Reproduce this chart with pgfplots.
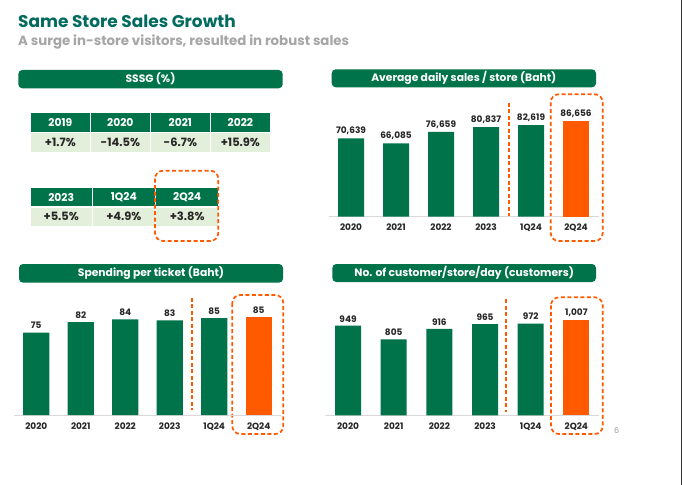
\documentclass[border=0pt]{standalone}
\usepackage{pgfplots}
\pgfplotsset{compat=1.18}
\usepackage{fontspec}
\setmainfont{Poppins}
\definecolor{grn}{HTML}{00734A}
\definecolor{org}{HTML}{FF5A00}
\definecolor{lgrn}{HTML}{E2EFDA}
\definecolor{ttl}{HTML}{006B5E}
\definecolor{sub}{HTML}{A6A6A6}
\definecolor{txt}{HTML}{262626}
\newcommand{\lblfont}{\fontsize{9}{10}\selectfont\bfseries}
\pgfplotsset{
 barchart/.style={
  scale only axis, anchor=south west, clip=false,
  xmin=-0.5, xmax=5.5,
  axis x line*=bottom, axis y line=none,
  x axis line style={draw=black!15, line width=0.8pt, -},
  xtick={0,...,5}, xticklabels={2020,2021,2022,2023,1Q24,2Q24},
  major tick length=0pt,
  xticklabel style={font=\lblfont, text=txt, yshift=-4bp},
  ybar, bar width=26bp,
  nodes near coords,
  every node near coord/.append style={font=\lblfont, text=txt},
  /pgf/number format/assume math mode=true,
 }
}
\begin{document}
\begin{tikzpicture}
\begin{scope}[x=1bp,y=-1bp]
\path[use as bounding box, fill=white] (0,0) rectangle (682,485);
\draw[black!80, line width=0.8bp] (681,0)--(681,485);
% titles
\node[anchor=base west, inner sep=0, text=ttl, font=\fontsize{17}{20}\selectfont\bfseries] at (18,27.3) {Same Store Sales Growth};
\node[anchor=base west, inner sep=0, text=sub, font=\fontsize{13.4}{15}\selectfont\bfseries] at (18,46) {A surge in-store visitors, resulted in robust sales};
% header bars
\fill[grn, rounded corners=4bp] (18.3,70) rectangle (282.7,88.3);
\node[white, font=\fontsize{10.8}{12}\selectfont\bfseries] at (150.5,79.2) {SSSG (\%)};
\fill[grn, rounded corners=4bp] (331.7,69.3) rectangle (596,87.3);
\node[white, font=\fontsize{10.8}{12}\selectfont\bfseries] at (463.8,78.3) {Average daily sales / store (Baht)};
\fill[grn, rounded corners=4bp] (19,264) rectangle (283,282.7);
\node[white, font=\fontsize{10.8}{12}\selectfont\bfseries] at (151,273.3) {Spending per ticket (Baht)};
\fill[grn, rounded corners=4bp] (332.3,264) rectangle (596,282);
\node[white, font=\fontsize{10.8}{12}\selectfont\bfseries] at (464.2,273) {No. of customer/store/day (customers)};
% SSSG table
\foreach \xa/\xb/\hd/\vl in {30.7/90/2019/+1.7\%, 90.7/150/2020/-14.5\%, 150.7/210/2021/-6.7\%, 210.7/270/2022/+15.9\%}{
  \fill[grn] (\xa,113.3) rectangle (\xb,131.7);
  \fill[lgrn] (\xa,133.3) rectangle (\xb,151.7);
  \node[white, font=\fontsize{10.8}{12}\selectfont\bfseries] at ({(\xa+\xb)/2},122.5) {\hd};
  \node[text=txt, font=\fontsize{11.5}{12}\selectfont\bfseries] at ({(\xa+\xb)/2},142.5) {\vl};
}
\foreach \xa/\xb/\hd/\vl in {30.7/91.7/2023/+5.5\%, 92.7/155/1Q24/+4.9\%, 156/218.3/2Q24/+3.8\%}{
  \fill[grn] (\xa,188.3) rectangle (\xb,206);
  \fill[lgrn] (\xa,207.7) rectangle (\xb,225.7);
  \node[white, font=\fontsize{10.8}{12}\selectfont\bfseries] at ({(\xa+\xb)/2},197.2) {\hd};
  \node[text=txt, font=\fontsize{11.5}{12}\selectfont\bfseries] at ({(\xa+\xb)/2},216.7) {\vl};
}
% dashed highlights
\tikzset{dsh/.style={draw=org, line width=1.7bp, dash pattern=on 4bp off 2.5bp},
         hl/.style={dsh, rounded corners=8bp}}
\draw[hl] (155,170.7) rectangle (218.3,241);
\draw[hl] (550.7,94.3) rectangle (602.7,241);
\draw[hl] (232.3,295) rectangle (283.3,434);
\draw[hl] (551,297.3) rectangle (602.7,434);
\draw[dsh, line width=2bp] (508.5,102.7)--(508.5,216.7);
\draw[dsh, line width=2bp] (191.5,297.7)--(191.5,410);
\draw[dsh, line width=2bp] (505.5,299.3)--(505.5,411.7);
\node[text=black!40, font=\fontsize{8}{9}\selectfont] at (616.7,430.7) {6};
\end{scope}
% Average daily sales
\begin{axis}[barchart, at={(328.5bp,-216.7bp)}, width=270bp, height=110bp, ymin=0, ymax=99280]
\addplot[fill=grn, draw=none, bar shift=0pt] coordinates {(0,70639) (1,66085) (2,76659) (3,80837) (4,82619)};
\addplot[fill=org, draw=none, bar shift=0pt] coordinates {(5,86656)};
\end{axis}
% Spending per ticket
\begin{axis}[barchart, at={(14bp,-415bp)}, width=267bp, height=120bp, ymin=20, ymax=100,
  /pgf/number format/fixed, /pgf/number format/precision=0]
\addplot[fill=grn, draw=none, bar shift=0pt] coordinates {(0,75) (1,82) (2,83.8) (3,83.1) (4,84.6)};
\addplot[fill=org, draw=none, bar shift=0pt] coordinates {(5,85.2)};
\end{axis}
% Customers per store per day
\begin{axis}[barchart, at={(325.2bp,-415.3bp)}, width=274bp, height=120bp, ymin=0, ymax=1271]
\addplot[fill=grn, draw=none, bar shift=0pt] coordinates {(0,949) (1,805) (2,916) (3,965) (4,972)};
\addplot[fill=org, draw=none, bar shift=0pt] coordinates {(5,1007)};
\end{axis}
\end{tikzpicture}
\end{document}
